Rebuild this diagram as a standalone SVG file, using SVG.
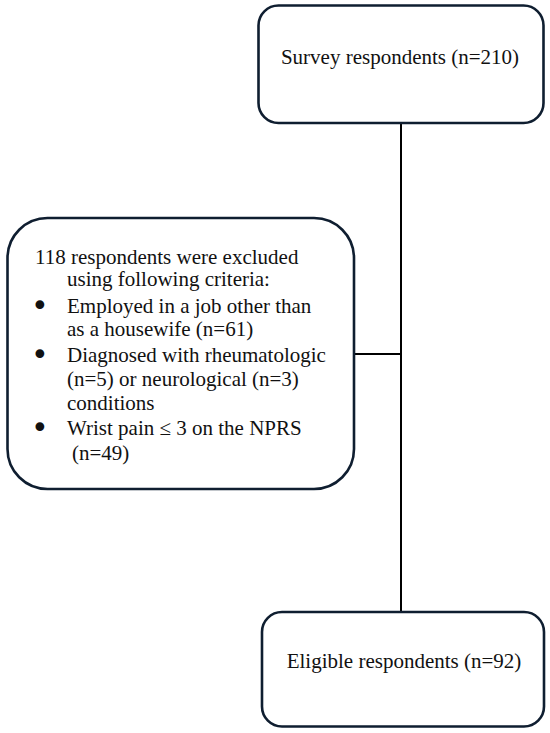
<svg xmlns="http://www.w3.org/2000/svg" width="550" height="733" viewBox="0 0 550 733">
<style>
.box{fill:#ffffff;stroke:#0f1e30;stroke-width:2.6}
.ln{stroke:#000000;stroke-width:2;fill:none}
text{font-family:"Liberation Serif","Times New Roman",serif;font-size:21px;fill:#111111}
.bul{font-size:30px;font-family:"DejaVu Sans","Liberation Sans",sans-serif}
</style>
<rect x="0" y="0" width="550" height="733" fill="#ffffff"/>
<g id="connectors">
<line class="ln" x1="401" y1="123" x2="401" y2="612"/>
<line class="ln" x1="354" y1="354" x2="401" y2="354"/>
</g>
<g id="node-survey">
<rect class="box" x="258.5" y="5.5" width="285" height="117.5" rx="20" ry="20"/>
<text x="400" y="64" text-anchor="middle">Survey respondents (n=210)</text>
</g>
<g id="node-excluded">
<rect class="box" x="7.5" y="218" width="346.5" height="271" rx="40" ry="40"/>
<text x="35" y="264">118 respondents were excluded</text>
<text x="67" y="286">using following criteria:</text>
<text class="bul" x="31" y="316">•</text>
<text x="67" y="313">Employed in a job other than</text>
<text x="67" y="336">as a housewife (n=61)</text>
<text class="bul" x="31" y="365">•</text>
<text x="67" y="362">Diagnosed with rheumatologic</text>
<text x="67" y="386">(n=5) or neurological (n=3)</text>
<text x="67" y="410">conditions</text>
<text class="bul" x="31" y="438">•</text>
<text x="67" y="435">Wrist pain ≤ 3 on the NPRS</text>
<text x="72" y="460">(n=49)</text>
</g>
<g id="node-eligible">
<rect class="box" x="262" y="612" width="282" height="114.5" rx="20" ry="20"/>
<text x="404" y="668" text-anchor="middle">Eligible respondents (n=92)</text>
</g>
</svg>
